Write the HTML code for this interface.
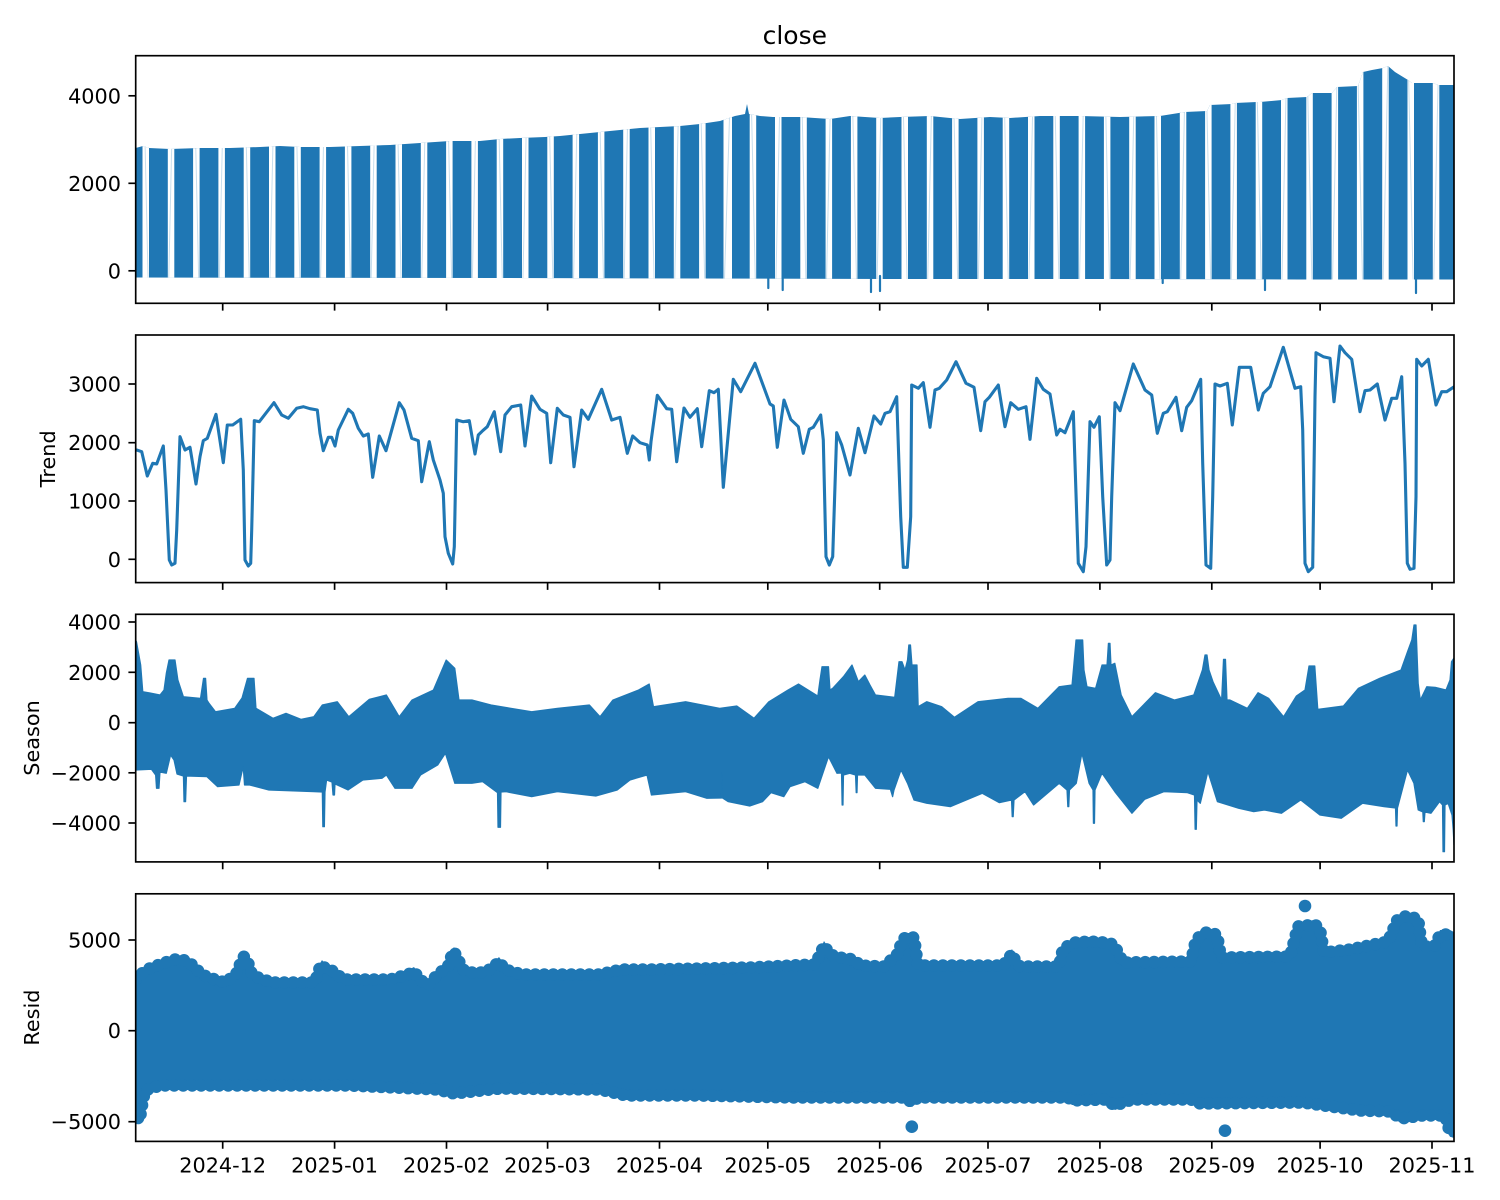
<!DOCTYPE html>
<html>
<head>
<meta charset="utf-8">
<style>
html,body{margin:0;padding:0;background:#fff;}
svg{display:block;}
text{font-family:"DejaVu Sans","Liberation Sans",sans-serif;fill:#000;}
</style>
</head>
<body>
<svg width="1500" height="1200" viewBox="0 0 1500 1200" xmlns="http://www.w3.org/2000/svg">
<defs>
  <clipPath id="ax1"><rect x="135.7" y="55.7" width="1318.3" height="247.6"/></clipPath>
  <clipPath id="ax2"><rect x="135.7" y="335" width="1318.3" height="247.6"/></clipPath>
  <clipPath id="ax3"><rect x="135.7" y="614.3" width="1318.3" height="247.6"/></clipPath>
  <clipPath id="ax4"><rect x="135.7" y="893.8" width="1318.3" height="247.6"/></clipPath>
  <clipPath id="envclip">
    <polygon points="135.7,148 143,146 149,148 170,149 200,148 230,148 260,147 280,146 300,147 330,147 360,146 390,145 420,143 450,141 480,141 500,139 520,138 545,137 560,136 580,134 600,132 620,130 640,128 660,127 680,126 700,124 720,121 735,116 745,114 747,104 749,114 760,116 773,117 800,117 830,119 850,116 880,118 900,117 930,116 960,119 990,117 1010,118 1040,116 1080,116 1120,117 1160,116 1185,112 1207,111 1210,105 1232,104 1235,103 1257,102 1260,102 1282,100 1287,98 1307,97 1312,93 1332,93 1337,87 1358,86 1363,72 1372,70 1383,68 1388,66 1395,72 1408,80 1412,83 1433,83 1438,85 1454,85 1454,279.5 1300,279.5 1100,279 900,279 700,278.5 500,278 300,277.8 135.7,277.5"/>
  </clipPath>
</defs>

<!-- Title -->
<text x="794.8" y="44" font-size="25" text-anchor="middle">close</text>

<!-- ================= Panel 1: close ================= -->
<g clip-path="url(#ax1)">
  <polygon fill="#1f77b4" points="135.7,148 143,146 149,148 170,149 200,148 230,148 260,147 280,146 300,147 330,147 360,146 390,145 420,143 450,141 480,141 500,139 520,138 545,137 560,136 580,134 600,132 620,130 640,128 660,127 680,126 700,124 720,121 735,116 745,114 747,104 749,114 760,116 773,117 800,117 830,119 850,116 880,118 900,117 930,116 960,119 990,117 1010,118 1040,116 1080,116 1120,117 1160,116 1185,112 1207,111 1210,105 1232,104 1235,103 1257,102 1260,102 1282,100 1287,98 1307,97 1312,93 1332,93 1337,87 1358,86 1363,72 1372,70 1383,68 1388,66 1395,72 1408,80 1412,83 1433,83 1438,85 1454,85 1454,279.5 1300,279.5 1100,279 900,279 700,278.5 500,278 300,277.8 135.7,277.5"/>
  <g clip-path="url(#envclip)">
    <path fill="#fff" d="M142.5,50h6.5v240h-6.5z M167.8,50h6.5v240h-6.5z M193.1,50h6.5v240h-6.5z M218.4,50h6.5v240h-6.5z M243.7,50h6.5v240h-6.5z M269,50h6.5v240h-6.5z M294.3,50h6.5v240h-6.5z M319.6,50h6.5v240h-6.5z M344.9,50h6.5v240h-6.5z M370.2,50h6.5v240h-6.5z M395.5,50h6.5v240h-6.5z M420.8,50h6.5v240h-6.5z M446.1,50h6.5v240h-6.5z M471.4,50h6.5v240h-6.5z M496.7,50h6.5v240h-6.5z M522,50h6.5v240h-6.5z M547.3,50h6.5v240h-6.5z M572.6,50h6.5v240h-6.5z M597.9,50h6.5v240h-6.5z M623.2,50h6.5v240h-6.5z M648.5,50h6.5v240h-6.5z M673.8,50h6.5v240h-6.5z M699.1,50h6.5v240h-6.5z M723.5,50h8.5v240h-8.5z M749.7,50h6.5v240h-6.5z M775,50h6.5v240h-6.5z M800.3,50h6.5v240h-6.5z M825.6,50h6.5v240h-6.5z M850.9,50h6.5v240h-6.5z M876.2,50h6.5v240h-6.5z M901.5,50h6.5v240h-6.5z M926.8,50h6.5v240h-6.5z M952.1,50h6.5v240h-6.5z M977.4,50h6.5v240h-6.5z M1002.7,50h6.5v240h-6.5z M1028,50h6.5v240h-6.5z M1053.3,50h6.5v240h-6.5z M1078.6,50h6.5v240h-6.5z M1103.9,50h6.5v240h-6.5z M1129.2,50h6.5v240h-6.5z M1154.5,50h6.5v240h-6.5z M1179.8,50h6.5v240h-6.5z M1205.1,50h6.5v240h-6.5z M1230.4,50h6.5v240h-6.5z M1255.7,50h6.5v240h-6.5z M1281,50h6.5v240h-6.5z M1306.3,50h6.5v240h-6.5z M1331.6,50h6.5v240h-6.5z M1356.9,50h6.5v240h-6.5z M1382.2,50h6.5v240h-6.5z M1407.5,50h6.5v240h-6.5z M1432.8,50h6.5v240h-6.5z"/>
    <path fill="none" stroke="#1f77b4" stroke-width="1" stroke-opacity="0.25" d="M143.2,60L148.2,285 M173.6,60L168.6,285 M193.8,60L198.8,285 M224.2,60L219.2,285 M244.4,60L249.4,285 M274.8,60L269.8,285 M295,60L300,285 M325.4,60L320.4,285 M345.6,60L350.6,285 M376,60L371,285 M396.2,60L401.2,285 M426.6,60L421.6,285 M446.8,60L451.8,285 M477.2,60L472.2,285 M497.4,60L502.4,285 M527.8,60L522.8,285 M548,60L553,285 M578.4,60L573.4,285 M598.6,60L603.6,285 M629,60L624,285 M649.2,60L654.2,285 M679.6,60L674.6,285 M699.8,60L704.8,285 M731.3,60L724.3,285 M750.4,60L755.4,285 M780.8,60L775.8,285 M801,60L806,285 M831.4,60L826.4,285 M851.6,60L856.6,285 M882,60L877,285 M902.2,60L907.2,285 M932.6,60L927.6,285 M952.8,60L957.8,285 M983.2,60L978.2,285 M1003.4,60L1008.4,285 M1033.8,60L1028.8,285 M1054,60L1059,285 M1084.4,60L1079.4,285 M1104.6,60L1109.6,285 M1135,60L1130,285 M1155.2,60L1160.2,285 M1185.6,60L1180.6,285 M1205.8,60L1210.8,285 M1236.2,60L1231.2,285 M1256.4,60L1261.4,285 M1286.8,60L1281.8,285 M1307,60L1312,285 M1337.4,60L1332.4,285 M1357.6,60L1362.6,285 M1388,60L1383,285 M1408.2,60L1413.2,285 M1438.6,60L1433.6,285"/>
  </g>
  <g stroke="#1f77b4" stroke-width="2.2" stroke-linecap="round">
    <line x1="768.3" y1="276" x2="768.3" y2="288"/>
    <line x1="782.7" y1="276" x2="782.7" y2="290"/>
    <line x1="871" y1="276" x2="871" y2="292"/>
    <line x1="880" y1="276" x2="880" y2="291"/>
    <line x1="1162.7" y1="276" x2="1162.7" y2="283"/>
    <line x1="1265" y1="276" x2="1265" y2="290"/>
    <line x1="1416" y1="276" x2="1416" y2="293"/>
  </g>
</g>

<!-- ================= Panel 2: Trend ================= -->
<g clip-path="url(#ax2)">
<polyline fill="none" stroke="#1f77b4" stroke-width="3.1" stroke-linejoin="round" stroke-linecap="round" points="135.7,450 136.7,450 141.7,451.7 147.3,476 152.7,463.3 156.7,464 163.3,446 166,490 169.3,560 171.7,565 175,563.3 176.7,530 180,436.7 185,450 190,447.3 196,484 200,456.7 203.3,440.7 207.3,438.3 216,414.3 223.3,462.7 227.3,425 232.7,425 240.7,419.3 243.3,470 245,560 248.3,566 250.7,563.3 251.7,530 254.3,420.7 259.3,421.7 274,402.7 281.7,415 288.3,418.3 296.7,408.3 303.3,406.7 310,408.7 317.3,410 320,433.3 323.3,450.7 328.3,437.3 331.7,437.3 335,446 338.3,430 348.3,409.3 352.7,413.3 358.3,428.3 363.3,436 368.3,434 372.7,477.3 379.3,436 386,450.7 399.3,402.7 404,410 411.7,438.3 418.3,440.7 421.7,481.7 429.3,441.7 433.3,460 440,480 443.3,493.3 445,536.7 448.3,553.3 452.7,564 454.3,546.7 456.7,420 463.3,421.7 469.3,420.7 475,454 478.3,435 482.7,430.7 487.3,426.7 494.3,411.7 500.7,451.7 505,415 511.7,406.7 520.7,405 525,446 531.7,396 540,409.3 546.7,413.3 550.7,462.7 557.3,408.3 563.3,415 570,417.3 574,466.7 581.7,410 588.3,419.3 601.7,389.3 611.7,420 620,417.3 627.3,453.3 632.7,436 640,442.7 647.3,445 649.3,460 651,441.7 657.3,395.3 666.7,408.7 671.7,409.3 676.7,461.7 684,408 690,417.3 697.3,408.7 701.7,446.7 709.3,390.7 714,392.7 718.3,389.3 723.3,487.3 733.3,379.3 740.7,391.7 755,363.3 770,404 773.3,406 777.3,447.3 784,400 790.7,419.3 798.3,426.7 803.3,453.3 809.3,429.3 813.3,427.3 820.7,415 823.3,440 826,556.7 829.3,565 832.7,556.7 836.7,432.7 841.7,445 850,475 858.3,428.3 865,452.7 874,416 880.7,424 885,413.3 890,411.7 896.7,396.7 900.7,516.7 903.3,567.3 907.3,567.3 910.7,516.7 911.7,385 918.3,388.3 923.3,382.7 930,427.3 935,390 939.3,388.3 946.7,380 956,361.7 966,383.3 974,387.3 980.7,430.7 985,401.7 989.3,397.3 998.3,385 1005,426.7 1010.7,402.7 1018.3,409.3 1026,406.7 1030,439.3 1036.7,378.3 1043.3,389.3 1050,394 1056.7,435 1060,429.3 1065,432.7 1073.3,411.7 1075,463.3 1078.3,563.3 1083.3,571.7 1086,546.7 1090,421.7 1094,427.3 1099.3,416.7 1102.7,496.7 1106.7,565 1110,560 1111.7,496.7 1115,402.7 1120,410.7 1133.3,364 1145,390 1151.7,395 1157.3,433.3 1163.3,413.3 1167.3,411.7 1176,397.3 1181.7,430.7 1186.7,407.3 1191.7,400.7 1200.7,379.3 1202.7,463.3 1206,565 1210.7,568.3 1212.7,496.7 1215,384 1220,386 1227.3,383.3 1232.3,425 1239.3,367.3 1250.7,367.3 1258.3,410 1263.3,393.3 1270,386.7 1283.3,347.3 1295,388.3 1300.7,386.7 1302.7,430 1305,563.3 1308.3,571.7 1312.7,567.3 1315,396.7 1316,352.7 1323.3,356.7 1330,358.3 1334,401.7 1340,346 1345,352.7 1351.7,359.3 1360,411.7 1365,390.7 1370,390 1377.3,384 1385,420 1391.7,398.3 1396.7,398.3 1401.7,376.7 1405,463.3 1407.3,563.3 1410,569.3 1414,568.3 1416,496.7 1416.7,359.3 1421.7,366 1428.3,359.3 1436,405 1441.7,391.7 1446.7,391.7 1453.3,387.3 1455,386"/>
</g>

<!-- ================= Panel 3: Season ================= -->
<g clip-path="url(#ax3)">
<polygon fill="#1f77b4" stroke="#1f77b4" stroke-width="1.2" stroke-linejoin="round" points="135.7,640 136.5,641.7 138,650 140.7,665 142.8,691.7 150,693 160,695 164,690 166.3,673.3 169,660 175,660 177.9,680 183.4,696.7 200.5,698.3 203.5,678.3 205.6,678.3 207,700 209,703.3 215.5,711.7 234.7,708.3 242,698 247.5,678.3 254,678.3 256,708.3 273,718.3 286,713.3 301,719.3 313.8,716.7 322.3,705 337.3,701.7 348.8,716.7 369.3,699.3 386.4,695 399.2,716.7 412,700 433.4,690 446.2,660 454.8,668.3 459,700 471.9,700 491,705 531.7,711.7 557.4,708.3 589.4,705 600,716.7 612.9,700 638.5,690 649.2,684 653.5,706.7 685.6,701.7 719.7,708.3 736.8,706 754,718.3 768.9,701.7 788,690 798.5,684 817.8,696 820,680 822,666.7 828.5,666.7 830,690 832.7,688.3 843.4,676.7 852,665 858.4,681.7 864.8,675 870,685 875.5,695 894.7,697.3 899,661.7 902,661.7 905,670 907.5,660 908.8,645 910.5,645 912,665 917,665 918.2,706.7 926.8,701.7 941.7,706.7 954.5,717.3 978,701.7 1008,698.3 1020.8,698.3 1037.9,708.3 1059.2,686.7 1072,685 1076,640 1082.7,640 1084,670 1087,686.7 1095.6,688.3 1102,665 1107,665 1108.4,643.3 1110,643.3 1111,665 1114.8,663.3 1121.2,695 1131.9,716.7 1155.4,692.7 1174.6,700 1193.8,695 1202.4,670 1205,655 1207,655 1209,670 1213,681.7 1221.6,700 1223.5,659.3 1225.5,659.3 1227,700 1230,700 1247.3,708.3 1258,692.7 1268.6,698.3 1283.6,716.7 1296.4,696 1305,690 1309,666 1314.8,666 1317.8,709.3 1343.4,706 1358.4,688.3 1379.7,678.3 1401,670 1407.5,651.7 1411.8,640 1414,625 1416,625 1418.2,683.3 1420.3,700 1426.8,686.7 1435.3,687.3 1446,690 1450,680 1451.5,661.7 1454,658 1454,845 1453.2,830 1452,815 1448.1,803.3 1445,805 1444.5,851.7 1443,851.7 1442.5,805 1439.6,801.7 1431,813.3 1425,812 1424.3,821.7 1423.3,821.7 1422.8,812 1418.2,810 1413.9,783.3 1407.5,770 1397.5,808 1397,826 1396,826 1395.5,808 1384,806.7 1362.6,803.3 1341.3,818.3 1319.9,815 1300.7,800 1281.5,813.3 1264.4,810 1253.7,811.7 1238.7,808.3 1217.4,801.7 1207.9,771.7 1200.3,803.3 1197,800 1196.3,829.3 1195.1,829.3 1194.5,795 1187.4,792.7 1163.9,791.7 1144.7,799.3 1131.9,813.3 1114.8,791.7 1102,773.3 1095,790 1094.5,823.3 1093.4,823.3 1093,790 1089.1,783.3 1081.9,753.3 1076.3,783.3 1069.5,790 1068.8,806.7 1067.8,806.7 1067,790 1059.2,783.3 1033.6,805 1025,791.7 1014,800 1013.2,816.7 1012.2,816.7 1011.5,800 999.4,802.7 982.3,793.3 950.3,806.7 926.8,803.3 914,800 907.5,783.3 901,770 894,790 892.6,796.7 890.4,789.3 875.5,788.3 864.8,775 857.5,775 857,792.7 856.2,792.7 855.5,775 849.8,773.3 843.5,775 843,805 842.1,805 841.5,773 837,773.3 828.5,756.7 817.8,788.3 805,781.7 790,786.7 783.8,796.7 771,792.7 762.5,801.7 749.7,806 728.3,801.7 722.5,798 721.9,773.3 721.5,798 706.9,798.3 685.6,791.7 651.4,795 647,775 630,780 617.2,790 595.8,796 557.4,791.7 531.7,796.7 506,791.7 501,792 500.5,827.3 498,827.3 497.5,792.7 482.6,781.7 471.9,783.3 454.8,783.3 445.4,753.3 437.7,765 420.6,775 412,788.3 395,788.3 386.4,775 382,778.3 362.9,780 348,790 335,784 334.5,795 333,795 332,782 326.6,780 325,792 324.4,826.7 322.8,826.7 322.3,792 313.8,791.7 268.9,790 249.7,785 244.5,785 243.2,766.7 239,785 217.6,786.7 206.9,776.7 186.5,776 185.6,801.7 184,801.7 183.4,776 177,774 174,760 170.6,755 166.3,773.3 160,772 159,788.3 156.5,788.3 155.6,775 151.4,769.3 135.7,770"/>
</g>

<!-- ================= Panel 4: Resid ================= -->
<g clip-path="url(#ax4)">
  <polygon fill="#1f77b4" points="135.7,975 138,973 145,966 154,962 160,960 168,957 175,955 187,956 195,963 201.6,970 215,975 225,978 236,970 240,960 244,952 248,958 252,970 258,973 272,978 315,978 319,965 322,960 326,965 333.7,966.7 343,975 390,975 408,970 414,967 420,975 428,981 437.5,970 448,962 452,950 454,947 458,955 464,966 470,968 485,968 494,962 499,957 505,965 522,970 600,970 621,965 650,965 700,964 750,963 791,961 815,960 820,950 824,941 830,950 840,953 854,955 860,961 884,962 897,950 901,940 905,933 914,933 918,961 1003,961 1008,955 1012,949 1016,958 1020,962 1059,962 1063,944 1075,938 1090,937 1105,938 1114,940 1123,958 1191,957 1196,935 1205,928 1217,930 1221,953 1290,952 1298,922 1315,920 1320,925 1324,948 1350,945 1388,937 1397,916 1405,912 1418,914 1422,942 1435,941 1440,930 1450,930 1454,932 1454,1136 1450,1137 1445,1120 1422,1120 1401,1123 1390,1116 1360,1115 1324,1110 1303,1107 1200,1108 1191,1104 1132,1104 1115,1110 1105,1104 1072,1105 1068,1102 918,1102 912,1107 905,1102 790,1102 700,1100 626,1100 600,1094 500,1093 454,1098 437,1094 350,1090 160,1090 145,1095 142,1110 140,1122 135.7,1124"/>
  <g transform="translate(0,4.5)">
    <polyline fill="none" stroke="#1f77b4" stroke-width="12.5" stroke-linecap="round" stroke-linejoin="round" stroke-dasharray="0 9" points="135.7,975 138,973 145,966 154,962 160,960 168,957 175,955 187,956 195,963 201.6,970 215,975 225,978 236,970 240,960 244,952 248,958 252,970 258,973 272,978 315,978 319,965 322,960 326,965 333.7,966.7 343,975 390,975 408,970 414,967 420,975 428,981 437.5,970 448,962 452,950 454,947 458,955 464,966 470,968 485,968 494,962 499,957 505,965 522,970 600,970 621,965 650,965 700,964 750,963 791,961 815,960 820,950 824,941 830,950 840,953 854,955 860,961 884,962 897,950 901,940 905,933 914,933 918,961 1003,961 1008,955 1012,949 1016,958 1020,962 1059,962 1063,944 1075,938 1090,937 1105,938 1114,940 1123,958 1191,957 1196,935 1205,928 1217,930 1221,953 1290,952 1298,922 1315,920 1320,925 1324,948 1350,945 1388,937 1397,916 1405,912 1418,914 1422,942 1435,941 1440,930 1450,930 1454,932"/>
  </g>
  <g transform="translate(0,-4.5)">
    <polyline fill="none" stroke="#1f77b4" stroke-width="12.5" stroke-linecap="round" stroke-linejoin="round" stroke-dasharray="0 9" points="1454,1136 1450,1137 1445,1120 1422,1120 1401,1123 1390,1116 1360,1115 1324,1110 1303,1107 1200,1108 1191,1104 1132,1104 1115,1110 1105,1104 1072,1105 1068,1102 918,1102 912,1107 905,1102 790,1102 700,1100 626,1100 600,1094 500,1093 454,1098 437,1094 350,1090 160,1090 145,1095 142,1110 140,1122 135.7,1124"/>
  </g>
  <g fill="#1f77b4">
    <circle cx="911.8" cy="1126.7" r="6.3"/>
    <circle cx="1225" cy="1130.7" r="6.3"/>
    <circle cx="1305" cy="906" r="6.3"/>
    <circle cx="138" cy="1118" r="6.3"/>
    <circle cx="139" cy="1110" r="6.3"/>
  </g>
</g>

<!-- ================= Axes frames ================= -->
<g fill="none" stroke="#000" stroke-width="1.67">
  <rect x="135.7" y="55.7" width="1318.3" height="247.6"/>
  <rect x="135.7" y="335" width="1318.3" height="247.6"/>
  <rect x="135.7" y="614.3" width="1318.3" height="247.6"/>
  <rect x="135.7" y="893.8" width="1318.3" height="247.6"/>
</g>

<!-- Y ticks -->
<g stroke="#000" stroke-width="1.67">
  <line x1="128.4" y1="95.8" x2="135.7" y2="95.8"/>
  <line x1="128.4" y1="183.3" x2="135.7" y2="183.3"/>
  <line x1="128.4" y1="270.8" x2="135.7" y2="270.8"/>
  <line x1="128.4" y1="384" x2="135.7" y2="384"/>
  <line x1="128.4" y1="442.7" x2="135.7" y2="442.7"/>
  <line x1="128.4" y1="501" x2="135.7" y2="501"/>
  <line x1="128.4" y1="559.3" x2="135.7" y2="559.3"/>
  <line x1="128.4" y1="622" x2="135.7" y2="622"/>
  <line x1="128.4" y1="672.3" x2="135.7" y2="672.3"/>
  <line x1="128.4" y1="722.7" x2="135.7" y2="722.7"/>
  <line x1="128.4" y1="772.8" x2="135.7" y2="772.8"/>
  <line x1="128.4" y1="823" x2="135.7" y2="823"/>
  <line x1="128.4" y1="940" x2="135.7" y2="940"/>
  <line x1="128.4" y1="1030.7" x2="135.7" y2="1030.7"/>
  <line x1="128.4" y1="1121.7" x2="135.7" y2="1121.7"/>
</g>

<!-- Y tick labels -->
<g font-size="20.8" text-anchor="end">
  <text x="121" y="103.3">4000</text>
  <text x="121" y="190.8">2000</text>
  <text x="121" y="278.3">0</text>
  <text x="121" y="391.5">3000</text>
  <text x="121" y="450.2">2000</text>
  <text x="121" y="508.5">1000</text>
  <text x="121" y="566.8">0</text>
  <text x="121" y="629.5">4000</text>
  <text x="121" y="679.8">2000</text>
  <text x="121" y="730.2">0</text>
  <text x="121" y="780.3">−2000</text>
  <text x="121" y="830.5">−4000</text>
  <text x="121" y="947.5">5000</text>
  <text x="121" y="1038.2">0</text>
  <text x="121" y="1129.2">−5000</text>
</g>

<!-- X ticks on all panels -->
<g stroke="#000" stroke-width="1.67">
  <path d="M222.7,303.3v7.3 M334.6,303.3v7.3 M446.5,303.3v7.3 M547.6,303.3v7.3 M659.5,303.3v7.3 M767.8,303.3v7.3 M879.7,303.3v7.3 M988,303.3v7.3 M1099.9,303.3v7.3 M1211.8,303.3v7.3 M1320.1,303.3v7.3 M1432,303.3v7.3"/>
  <path d="M222.7,582.6v7.3 M334.6,582.6v7.3 M446.5,582.6v7.3 M547.6,582.6v7.3 M659.5,582.6v7.3 M767.8,582.6v7.3 M879.7,582.6v7.3 M988,582.6v7.3 M1099.9,582.6v7.3 M1211.8,582.6v7.3 M1320.1,582.6v7.3 M1432,582.6v7.3"/>
  <path d="M222.7,861.9v7.3 M334.6,861.9v7.3 M446.5,861.9v7.3 M547.6,861.9v7.3 M659.5,861.9v7.3 M767.8,861.9v7.3 M879.7,861.9v7.3 M988,861.9v7.3 M1099.9,861.9v7.3 M1211.8,861.9v7.3 M1320.1,861.9v7.3 M1432,861.9v7.3"/>
  <path d="M222.7,1141.4v7.3 M334.6,1141.4v7.3 M446.5,1141.4v7.3 M547.6,1141.4v7.3 M659.5,1141.4v7.3 M767.8,1141.4v7.3 M879.7,1141.4v7.3 M988,1141.4v7.3 M1099.9,1141.4v7.3 M1211.8,1141.4v7.3 M1320.1,1141.4v7.3 M1432,1141.4v7.3"/>
</g>

<!-- X tick labels -->
<g font-size="20.8" text-anchor="middle">
  <text x="222.7" y="1172.5">2024-12</text>
  <text x="334.6" y="1172.5">2025-01</text>
  <text x="446.5" y="1172.5">2025-02</text>
  <text x="547.6" y="1172.5">2025-03</text>
  <text x="659.5" y="1172.5">2025-04</text>
  <text x="767.8" y="1172.5">2025-05</text>
  <text x="879.7" y="1172.5">2025-06</text>
  <text x="988" y="1172.5">2025-07</text>
  <text x="1099.9" y="1172.5">2025-08</text>
  <text x="1211.8" y="1172.5">2025-09</text>
  <text x="1320.1" y="1172.5">2025-10</text>
  <text x="1432" y="1172.5">2025-11</text>
</g>

<!-- Y axis labels -->
<g font-size="20.8" text-anchor="middle">
  <text transform="translate(55,458.8) rotate(-90)">Trend</text>
  <text transform="translate(39,738) rotate(-90)">Season</text>
  <text transform="translate(39,1017.6) rotate(-90)">Resid</text>
</g>
</svg>
</body>
</html>
